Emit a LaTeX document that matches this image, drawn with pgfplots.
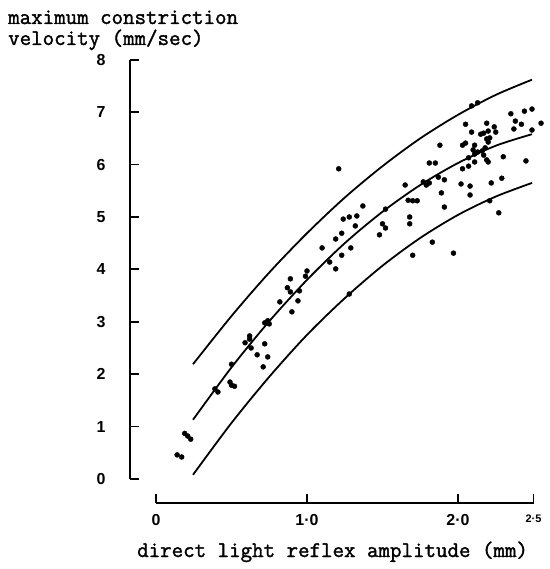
\documentclass[border=0pt]{standalone}
\usepackage{fontspec}
\usepackage{pgfplots}
\pgfplotsset{compat=1.18}
\setmainfont{Liberation Sans}
\newfontfamily\typerfont{Latin Modern Mono}[FakeBold=1.6]

% measured values: direct light reflex amplitude (mm) vs max constriction velocity (mm/sec)
\pgfplotstableread{
x y
0.14 0.46
0.17 0.42
0.19 0.87
0.21 0.82
0.23 0.76
0.39 1.72
0.41 1.66
0.50 2.19
0.49 1.85
0.50 1.79
0.52 1.77
0.59 2.60
0.62 2.73
0.62 2.67
0.63 2.50
0.67 2.37
0.72 2.58
0.74 2.33
0.71 2.14
0.72 2.98
0.74 3.02
0.75 2.96
0.82 3.38
0.90 3.19
0.94 3.40
0.87 3.65
0.89 3.57
0.89 3.82
0.95 3.59
0.99 3.87
1.00 3.97
1.10 4.41
1.15 4.14
1.19 4.01
1.19 4.58
1.23 4.27
1.23 4.69
1.24 4.96
1.28 5.00
1.29 4.41
1.32 4.83
1.33 5.02
1.37 5.21
1.21 5.92
1.28 3.53
1.50 4.87
1.52 4.79
1.48 4.66
1.52 5.15
1.65 5.61
1.77 5.67
1.79 5.61
1.81 5.65
1.87 5.76
1.91 5.71
1.88 6.37
1.81 6.03
1.85 6.03
1.67 5.32
1.70 5.31
1.73 5.31
1.89 5.46
1.91 5.19
1.68 5.00
1.68 4.87
1.83 4.52
1.70 4.27
1.97 4.31
2.09 7.12
2.13 7.18
2.35 6.97
2.44 7.02
2.49 7.06
2.38 6.83
2.42 6.77
2.55 6.79
2.05 6.77
2.19 6.79
2.37 6.68
2.49 6.66
2.09 6.62
2.15 6.58
2.17 6.60
2.20 6.64
2.24 6.72
2.25 6.62
2.19 6.49
2.21 6.51
2.20 6.43
2.03 6.37
2.05 6.41
2.11 6.37
2.10 6.28
2.13 6.24
2.11 6.20
2.16 6.26
2.18 6.32
2.17 6.18
2.19 6.09
2.07 6.13
2.11 6.05
2.20 6.05
2.30 6.15
2.45 6.07
2.03 5.92
2.07 5.97
2.02 5.63
2.08 5.59
2.08 5.42
2.22 5.65
2.29 5.74
2.21 5.31
2.27 5.08
}\points

% regression line with upper and lower limits
\pgfplotstableread{
x mid upper lower
0.245 1.13 2.19 0.08
0.50 2.13 3.11 1.07
0.75 3.01 3.94 1.95
1.00 3.80 4.69 2.75
1.25 4.50 5.37 3.45
1.50 5.10 5.97 4.07
1.75 5.61 6.50 4.60
2.00 6.03 6.95 5.04
2.25 6.36 7.33 5.39
2.49 6.58 7.62 5.65
}\fits

\begin{document}
\begin{tikzpicture}
\useasboundingbox (-156bp,-90bp) rectangle (394bp,479bp);
\begin{axis}[
  anchor=origin, at={(0,0)},
  x=151bp, y=52.4bp,
  xmin=0, xmax=2.5, ymin=0, ymax=8,
  axis x line*=bottom, axis y line*=left,
  axis x line shift=24bp, axis y line shift=26bp,
  axis line style={line width=1.8bp, -},
  tick align=inside,
  major tick length=9bp,
  tick style={line width=1.8bp, black},
  xtick={0,1,2,2.5},
  xticklabels={0,1·0,2·0,{\fontsize{11}{11}\selectfont 2·5}},
  ytick={0,1,...,8},
  ticklabel style={font=\fontsize{16}{16}\selectfont\bfseries},
  xticklabel style={yshift=-8bp},
  yticklabel style={xshift=-21bp},
  /pgf/number format/assume math mode=true,
  clip=false,
]
\addplot[only marks, mark=*, mark size=2.5bp, black] table[x=x, y=y] {\points};
\addplot[line width=1.8bp, smooth, black] table[x=x, y=mid] {\fits};
\addplot[line width=1.8bp, smooth, black] table[x=x, y=upper] {\fits};
\addplot[line width=1.8bp, smooth, black] table[x=x, y=lower] {\fits};
\end{axis}
\begin{scope}[every node/.style={inner sep=0, anchor=base west, font=\typerfont\fontsize{22.4}{24}\selectfont}]
\node at (-148bp,455bp) {maximum constriction};
\node at (-148bp,434bp) {velocity (mm/sec)};
\node at (-19bp,-78bp) {direct light reflex amplitude (mm)};
\end{scope}
\end{tikzpicture}
\end{document}
